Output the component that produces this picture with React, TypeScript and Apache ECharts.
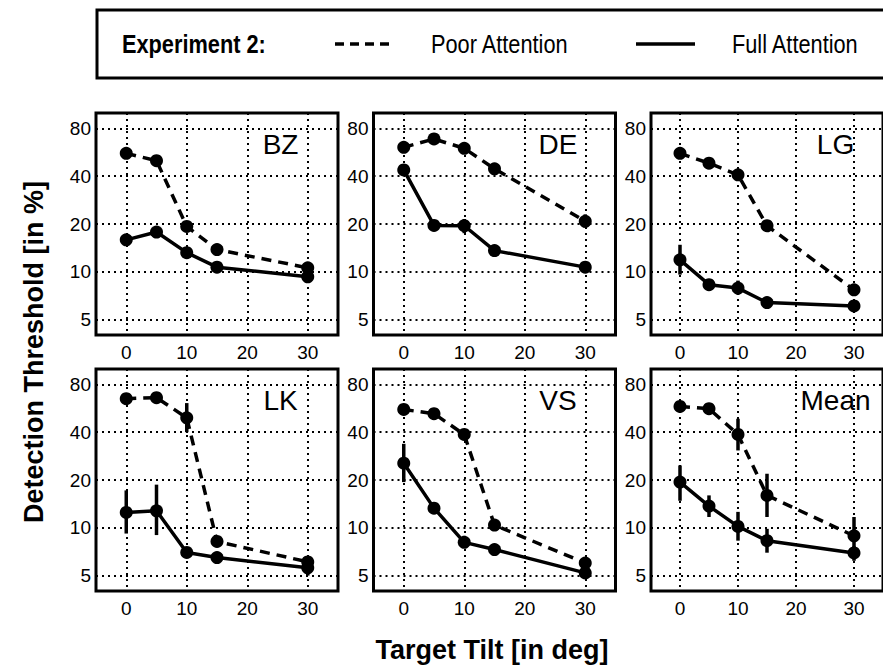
import React, { useEffect, useRef } from "react";
import * as echarts from "echarts";

// ---------- data ----------
const tilts = [0, 5, 10, 15, 30];
const subjects = ["BZ", "DE", "LG", "LK", "VS", "Mean"];
const xTicks = [0, 10, 20, 30];
const yTicks = [5, 10, 20, 40, 80];

const bzPoor = [55.7, 50.1, 19.3, 13.8, 10.6];
const bzFull = [15.9, 17.8, 13.2, 10.7, 9.3];
const dePoor = [60.8, 68.6, 59.9, 44.5, 20.8];
const deFull = [43.8, 19.6, 19.5, 13.6, 10.7];
const lgPoor = [55.7, 48.3, 40.8, 19.5, 7.7];
const lgFull = [11.9, 8.3, 7.9, 6.4, 6.1];
const lkPoor = [65.0, 66.0, 49.3, 8.2, 6.1];
const lkFull = [12.5, 12.8, 7.0, 6.5, 5.6];
const vsPoor = [55.6, 52.3, 38.7, 10.4, 6.0];
const vsFull = [25.5, 13.3, 8.1, 7.3, 5.2];
const meanPoor = [58.1, 56.2, 38.7, 16.0, 8.9];
const meanFull = [19.4, 13.7, 10.2, 8.3, 6.95];

// error bars [low, high] (null = not visible)
const bzPoorErr = [null, null, null, null, null];
const bzFullErr = [null, null, null, null, null];
const dePoorErr = [null, null, null, null, [19.0, 23.0]];
const deFullErr = [null, null, [17.5, 21.5], null, null];
const lgPoorErr = [null, null, null, null, null];
const lgFullErr = [[9.6, 14.8], null, [7.2, 8.8], [5.9, 6.9], null];
const lkPoorErr = [null, null, [40.0, 61.0], null, null];
const lkFullErr = [[9.2, 17.2], [9.0, 18.7], null, null, [5.0, 6.3]];
const vsPoorErr = [null, null, null, null, [5.6, 6.5]];
const vsFullErr = [[19.4, 33.8], null, [7.5, 8.9], null, null];
const meanPoorErr = [null, null, [30.7, 48.6], [11.7, 21.9], [7.55, 11.7]];
const meanFullErr = [[14.8, 24.7], [11.7, 16.0], [8.3, 12.6], [6.97, 9.85], [6.2, 7.65]];

const poorSets = [bzPoor, dePoor, lgPoor, lkPoor, vsPoor, meanPoor];
const fullSets = [bzFull, deFull, lgFull, lkFull, vsFull, meanFull];
const poorErrSets = [bzPoorErr, dePoorErr, lgPoorErr, lkPoorErr, vsPoorErr, meanPoorErr];
const fullErrSets = [bzFullErr, deFullErr, lgFullErr, lkFullErr, vsFullErr, meanFullErr];

// ---------- layout ----------
const FONT = "'Liberation Sans', Arial, Helvetica, sans-serif";
const colLeft = [96, 373.5, 651];
const rowTop = [113, 369];
const panelW = 242;
const panelH = 222;

export default function App() {
  const ref = useRef<HTMLDivElement>(null);

  useEffect(() => {
    if (!ref.current) return;
    const chart = echarts.init(ref.current, null, { renderer: "svg" });

    const grids: any[] = [];
    const xAxes: any[] = [];
    const yAxes: any[] = [];
    const series: any[] = [];
    const graphics: any[] = [];

    subjects.forEach((name, i) => {
      const col = i % 3;
      const row = Math.floor(i / 3);
      const left = colLeft[col];
      const top = rowTop[row];
      grids.push({
        left,
        top,
        width: panelW,
        height: panelH,
        show: true,
        borderColor: "#000",
        borderWidth: 3,
        backgroundColor: "#fff",
        z: 0,
      });
      xAxes.push({
        type: "value",
        gridIndex: i,
        min: -5,
        max: 35,
        axisLine: { show: false },
        axisTick: { show: false, customValues: xTicks },
        axisLabel: {
          customValues: xTicks,
          color: "#000",
          fontSize: 19,
          fontFamily: FONT,
          margin: 8,
        },
        splitLine: {
          show: true,
          lineStyle: { color: "#000", width: 2, type: [2, 4] },
        },
      });
      yAxes.push({
        type: "log",
        logBase: 10,
        gridIndex: i,
        min: 4,
        max: 100,
        axisLine: { show: false },
        axisTick: { show: false, customValues: yTicks },
        axisLabel: {
          customValues: yTicks,
          color: "#000",
          fontSize: 19,
          fontFamily: FONT,
          margin: 5,
        },
        splitLine: {
          show: true,
          lineStyle: { color: "#000", width: 2, type: [2, 4] },
        },
      });

      const mkErr = (errs: any[]) =>
        errs
          .map((e, k) => (e ? [tilts[k], e[0], e[1]] : null))
          .filter((d) => d !== null);

      const errRender = (params: any, api: any) => {
        const x = api.value(0);
        const p1 = api.coord([x, api.value(1)]);
        const p2 = api.coord([x, api.value(2)]);
        return {
          type: "line",
          shape: { x1: p1[0], y1: p1[1], x2: p2[0], y2: p2[1] },
          style: { stroke: "#000", lineWidth: 3.5 },
        };
      };

      series.push({
        type: "custom",
        xAxisIndex: i,
        yAxisIndex: i,
        renderItem: errRender,
        data: mkErr(poorErrSets[i]),
        encode: { x: 0, y: [1, 2] },
        z: 3,
        silent: true,
      });
      series.push({
        type: "custom",
        xAxisIndex: i,
        yAxisIndex: i,
        renderItem: errRender,
        data: mkErr(fullErrSets[i]),
        encode: { x: 0, y: [1, 2] },
        z: 3,
        silent: true,
      });
      series.push({
        type: "line",
        name: "Poor Attention",
        xAxisIndex: i,
        yAxisIndex: i,
        data: tilts.map((t, k) => [t, poorSets[i][k]]),
        symbol: "circle",
        symbolSize: 13,
        itemStyle: { color: "#000" },
        lineStyle: { color: "#000", width: 3.5, type: [10, 7] },
        z: 4,
      });
      series.push({
        type: "line",
        name: "Full Attention",
        xAxisIndex: i,
        yAxisIndex: i,
        data: tilts.map((t, k) => [t, fullSets[i][k]]),
        symbol: "circle",
        symbolSize: 13,
        itemStyle: { color: "#000" },
        lineStyle: { color: "#000", width: 3.5, type: "solid" },
        z: 4,
      });

      graphics.push({
        type: "text",
        x: left + ((25.5 + 5) / 40) * panelW,
        y: top + 31,
        z: 10,
        style: {
          text: name,
          fill: "#000",
          font: `28px ${FONT}`,
          textAlign: "center",
          textVerticalAlign: "middle",
        },
      });
    });

    // legend box
    graphics.push({
      type: "rect",
      shape: { x: 97, y: 10, width: 900, height: 68 },
      style: { fill: "#fff", stroke: "#000", lineWidth: 3 },
      z: 1,
    });
    graphics.push({
      type: "text",
      x: 122,
      y: 44,
      scaleX: 0.87,
      z: 2,
      style: {
        text: "Experiment 2:",
        fill: "#000",
        font: `bold 25px ${FONT}`,
        textAlign: "left",
        textVerticalAlign: "middle",
      },
    });
    graphics.push({
      type: "line",
      shape: { x1: 335, y1: 44, x2: 394, y2: 44 },
      style: { stroke: "#000", lineWidth: 3.5, lineDash: [9, 6] },
      z: 2,
    });
    graphics.push({
      type: "text",
      x: 431,
      y: 44,
      scaleX: 0.87,
      z: 2,
      style: {
        text: "Poor Attention",
        fill: "#000",
        font: `25px ${FONT}`,
        textAlign: "left",
        textVerticalAlign: "middle",
      },
    });
    graphics.push({
      type: "line",
      shape: { x1: 636, y1: 44, x2: 695, y2: 44 },
      style: { stroke: "#000", lineWidth: 3.5 },
      z: 2,
    });
    graphics.push({
      type: "text",
      x: 732,
      y: 44,
      scaleX: 0.87,
      z: 2,
      style: {
        text: "Full Attention",
        fill: "#000",
        font: `25px ${FONT}`,
        textAlign: "left",
        textVerticalAlign: "middle",
      },
    });

    // axis titles
    graphics.push({
      type: "text",
      x: 34,
      y: 352,
      rotation: Math.PI / 2,
      z: 2,
      style: {
        text: "Detection Threshold [in %]",
        fill: "#000",
        font: `bold 27px ${FONT}`,
        textAlign: "center",
        textVerticalAlign: "middle",
      },
    });
    graphics.push({
      type: "text",
      x: 492,
      y: 650,
      z: 2,
      style: {
        text: "Target Tilt [in deg]",
        fill: "#000",
        font: `bold 27px ${FONT}`,
        textAlign: "center",
        textVerticalAlign: "middle",
      },
    });

    chart.setOption({
      animation: false,
      backgroundColor: "#fff",
      textStyle: { fontFamily: FONT },
      grid: grids,
      xAxis: xAxes,
      yAxis: yAxes,
      series,
      graphic: { elements: graphics },
    });

    return () => chart.dispose();
  }, []);

  return (
    <div
      ref={ref}
      style={{ position: "absolute", left: 0, top: 0, width: 883, height: 668 }}
    />
  );
}
